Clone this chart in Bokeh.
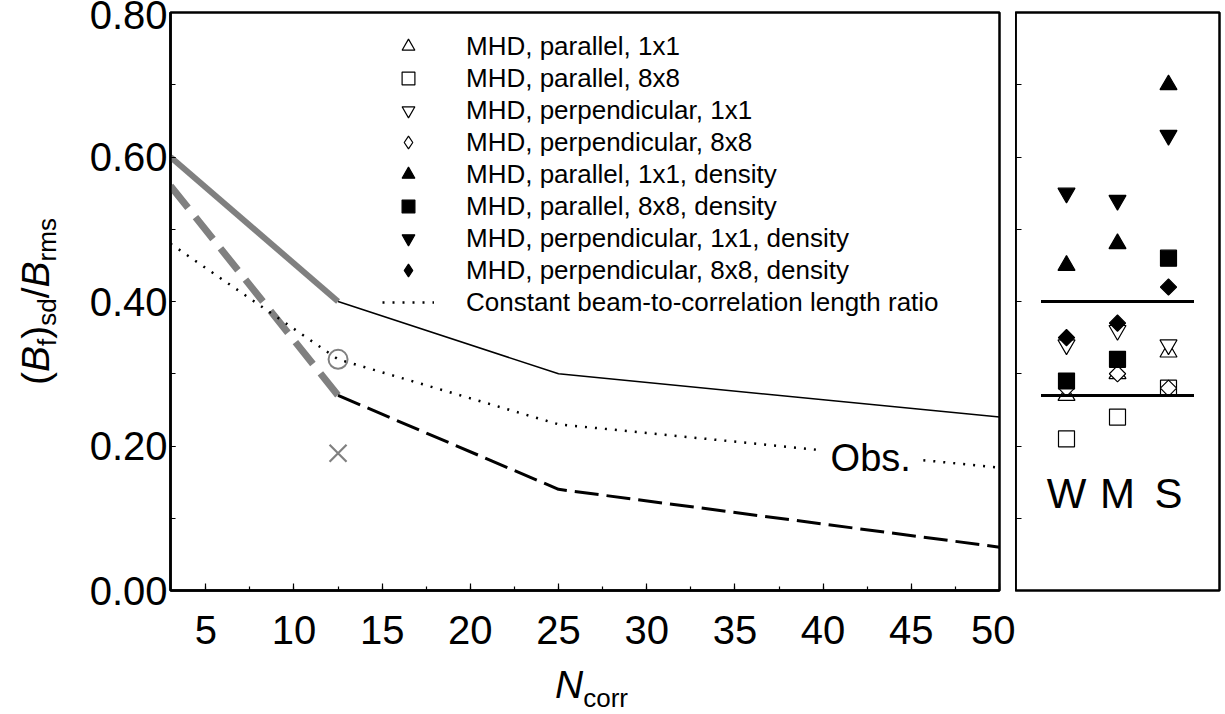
import math
from bokeh.plotting import figure
from bokeh.layouts import row, column
from bokeh.models import (Range1d, SingleIntervalTicker, NumeralTickFormatter,
                          Label, Legend, LegendItem, CustomJSTickFormatter)
from bokeh.core.properties import value
from bokeh.embed import file_html
from bokeh.resources import INLINE

FONT = "Liberation Sans"

# ---------------- data: left panel ----------------
n_steep = [3, 12.5]
upper_steep = [0.60, 0.40]
lower_steep = [0.56, 0.27]
n_corr = [12.5, 25, 50]
upper_vals = [0.40, 0.30, 0.24]
lower_vals = [0.27, 0.14, 0.06]
n_const = [3, 12.5, 25, 50]
const_vals = [0.48, 0.32, 0.23, 0.17]
obs_n = [12.5]
obs_circle = [0.32]
obs_cross = [0.19]

# ---------------- data: right panel ----------------
regions = ["W", "M", "S"]
region_pos = [1, 2, 3]
par_1x1 = [0.27, 0.30, 0.33]
par_8x8 = [0.21, 0.24, 0.28]
perp_1x1 = [0.34, 0.36, 0.34]
perp_8x8 = [0.28, 0.30, 0.28]
par_1x1_den = [0.45, 0.48, 0.70]
par_8x8_den = [0.29, 0.32, 0.46]
perp_1x1_den = [0.55, 0.54, 0.63]
perp_8x8_den = [0.35, 0.37, 0.42]
band_levels = [0.40, 0.27]

legend_labels = ["MHD, parallel, 1x1", "MHD, parallel, 8x8",
                 "MHD, perpendicular, 1x1", "MHD, perpendicular, 8x8",
                 "MHD, parallel, 1x1, density", "MHD, parallel, 8x8, density",
                 "MHD, perpendicular, 1x1, density", "MHD, perpendicular, 8x8, density",
                 "Constant beam-to-correlation length ratio"]

GRAY = "#808080"
TICK_FONT = "40px"
NAN = float("nan")

# ---------------- left figure ----------------
p = figure(frame_width=829, frame_height=578, min_border_left=170, min_border_right=16,
           min_border_top=12, min_border_bottom=124,
           x_range=Range1d(3, 50), y_range=Range1d(0, 0.8),
           output_backend="svg", toolbar_location=None)
p.xgrid.visible = False
p.ygrid.visible = False
p.outline_line_color = "black"
p.outline_line_width = 2.5
p.outline_line_alpha = 1
p.background_fill_color = "white"
p.border_fill_color = "white"

p.xaxis.ticker = SingleIntervalTicker(interval=5, num_minor_ticks=2)
p.yaxis.ticker = SingleIntervalTicker(interval=0.2, num_minor_ticks=2)
p.yaxis.formatter = NumeralTickFormatter(format="0.00")
for ax in (p.xaxis[0], p.yaxis[0]):
    ax.axis_line_width = 2.5
    ax.axis_line_color = "black"
    ax.major_tick_out = 0
    ax.minor_tick_out = 0
    ax.major_tick_line_color = "black"
    ax.minor_tick_line_color = "black"
    ax.major_tick_line_width = 1.2
    ax.minor_tick_line_width = 1.2
    ax.major_label_text_font = FONT
    ax.major_label_text_font_size = TICK_FONT
    ax.major_label_text_color = "black"
p.xaxis.major_tick_in = 7
p.xaxis.minor_tick_in = 4
p.yaxis.major_tick_in = 5
p.yaxis.minor_tick_in = 5
p.xaxis.major_label_standoff = 25
p.yaxis.major_label_standoff = 3

p.line(n_steep, lower_steep, line_color=GRAY, line_width=7, line_dash="28 12")
p.line(n_steep, upper_steep, line_color=GRAY, line_width=6)
p.line(n_corr, upper_vals, line_color="black", line_width=1.5)
p.line(n_corr, lower_vals, line_color="black", line_width=3, line_dash="24 8")
const_r = p.line(n_const, const_vals, line_color="black", line_width=2.5, line_dash="2 8")
p.scatter(obs_n, obs_circle, marker="circle", size=19, fill_color=None,
          line_color=GRAY, line_width=2)
p.scatter(obs_n, obs_cross, marker="x", size=24, line_color=GRAY, line_width=2.2)

p.add_layout(Label(x=42.7, y=0.184, text="Obs.", text_align="center", text_baseline="middle",
                   text_font=FONT, text_font_size="38px", text_color="black",
                   background_fill_color="white", padding=12))

# legend (key renderers carrying the marker styles; NaN points draw nothing in the plot)
legend_markers = [("triangle", "white"), ("square", "white"),
                  ("inverted_triangle", "white"), ("diamond", "white"),
                  ("triangle", "black"), ("square", "black"),
                  ("inverted_triangle", "black"), ("diamond", "black")]
items = []
for lab, (mk, fc) in zip(legend_labels[:8], legend_markers):
    r = p.scatter(x=[NAN], y=[NAN], marker=mk, fill_color=fc, line_color="black",
                  line_width=1.2, size=17)
    items.append(LegendItem(label=lab, renderers=[r]))
items.append(LegendItem(label=legend_labels[8], renderers=[const_r]))
legend = Legend(items=items, location=(212, 272), glyph_width=52, glyph_height=32,
                spacing=0, label_standoff=32, padding=0, margin=0,
                border_line_color=None, background_fill_alpha=0,
                label_text_font=FONT, label_text_font_size="26px",
                label_text_color="black")
p.add_layout(legend)

# ---------------- right figure ----------------
p2 = figure(frame_width=204, frame_height=578, min_border_left=0, min_border_right=6,
            min_border_top=12, min_border_bottom=124,
            x_range=Range1d(0, 4), y_range=Range1d(0, 0.8), x_axis_location=None,
            output_backend="svg", toolbar_location=None)
p2.xgrid.visible = False
p2.ygrid.visible = False
p2.outline_line_color = "black"
p2.outline_line_width = 2.5
p2.outline_line_alpha = 1
ya = p2.yaxis[0]
ya.ticker = SingleIntervalTicker(interval=0.1, num_minor_ticks=0)
ya.formatter = CustomJSTickFormatter(code="return ''")
ya.major_label_text_font_size = "12px"
ya.major_label_standoff = 0
ya.major_tick_out = 0
ya.major_tick_in = 6
ya.minor_tick_out = 0
ya.minor_tick_in = 0
ya.axis_line_width = 2.5
ya.major_tick_line_width = 1.2

MS = 17
open_kw = dict(fill_color="white", line_color="black", line_width=1.2)
fill_kw = dict(fill_color="black", line_color="black", line_width=1.2)
p2.scatter(region_pos, par_1x1, marker="triangle", size=MS, **open_kw)
p2.scatter(region_pos, par_8x8, marker="square", size=16, **open_kw)
p2.scatter(region_pos, perp_1x1, marker="inverted_triangle", size=MS, **open_kw)
p2.scatter(region_pos, perp_8x8, marker="square", angle=math.pi / 4, size=11.5, **open_kw)
p2.scatter(region_pos, par_1x1_den, marker="triangle", size=MS, **fill_kw)
p2.scatter(region_pos, par_8x8_den, marker="square", size=16, **fill_kw)
p2.scatter(region_pos, perp_1x1_den, marker="inverted_triangle", size=MS, **fill_kw)
p2.scatter(region_pos, perp_8x8_den, marker="square", angle=math.pi / 4, size=11.5, **fill_kw)
p2.segment(x0=[0.5] * len(band_levels), x1=[3.5] * len(band_levels),
           y0=band_levels, y1=band_levels, line_color="black", line_width=3)
p2.text(x=region_pos, y=[0.134] * len(regions), text=regions, text_align="center",
        text_baseline="middle", text_font=value(FONT), text_font_size="42px",
        text_color="black")

# ---------------- transparent overlay carrying the axis titles (with subscripts) ----------------
tt = figure(width=1225, height=714, min_border=0, x_axis_location=None, y_axis_location=None,
            x_range=Range1d(0, 1225), y_range=Range1d(714, 0),
            output_backend="svg", toolbar_location=None)
tt.xgrid.visible = False
tt.ygrid.visible = False
tt.outline_line_color = None
tt.background_fill_alpha = 0
tt.border_fill_alpha = 0
tt.margin = (-714, 0, 0, 0)

W = {"(": .333, ")": .333, "/": .278, "B": .667, "N": .722, "f": .278, "s": .5, "d": .556,
     "r": .333, "m": .833, "c": .5, "o": .556}
MAIN, SUB = 39, 26


def tw(s, size):
    return sum(W[c] for c in s) * size


ypieces = [("(", MAIN, "normal"), ("B", MAIN, "italic"), ("f", SUB, "normal"),
           (")", MAIN, "normal"), ("sd", SUB, "normal"), ("/", MAIN, "normal"),
           ("B", MAIN, "italic"), ("rms", SUB, "normal")]
total = sum(tw(s, sz) for s, sz, _ in ypieces)
pos = 301 + total / 2
for s, sz, st in ypieces:
    bx = 35 if sz == MAIN else 46
    tt.add_layout(Label(x=bx, y=pos, x_units="canvas", y_units="canvas", text=s,
                        angle=math.pi / 2, text_align="left", text_baseline="alphabetic",
                        text_font=FONT, text_font_size=f"{sz}px", text_font_style=st,
                        text_color="black"))
    pos -= tw(s, sz)

xpieces = [("N", MAIN, "italic"), ("corr", SUB, "normal")]
total = sum(tw(s, sz) for s, sz, _ in xpieces)
pos = 591 - total / 2
for s, sz, st in xpieces:
    by = 684 if sz == MAIN else 697
    tt.add_layout(Label(x=pos, y=by, x_units="canvas", y_units="canvas", text=s,
                        text_align="left", text_baseline="alphabetic",
                        text_font=FONT, text_font_size=f"{sz}px", text_font_style=st,
                        text_color="black"))
    pos += tw(s, sz)

layout = column(row(p, p2), tt)
open("out.html", "w").write(file_html(layout, INLINE))
